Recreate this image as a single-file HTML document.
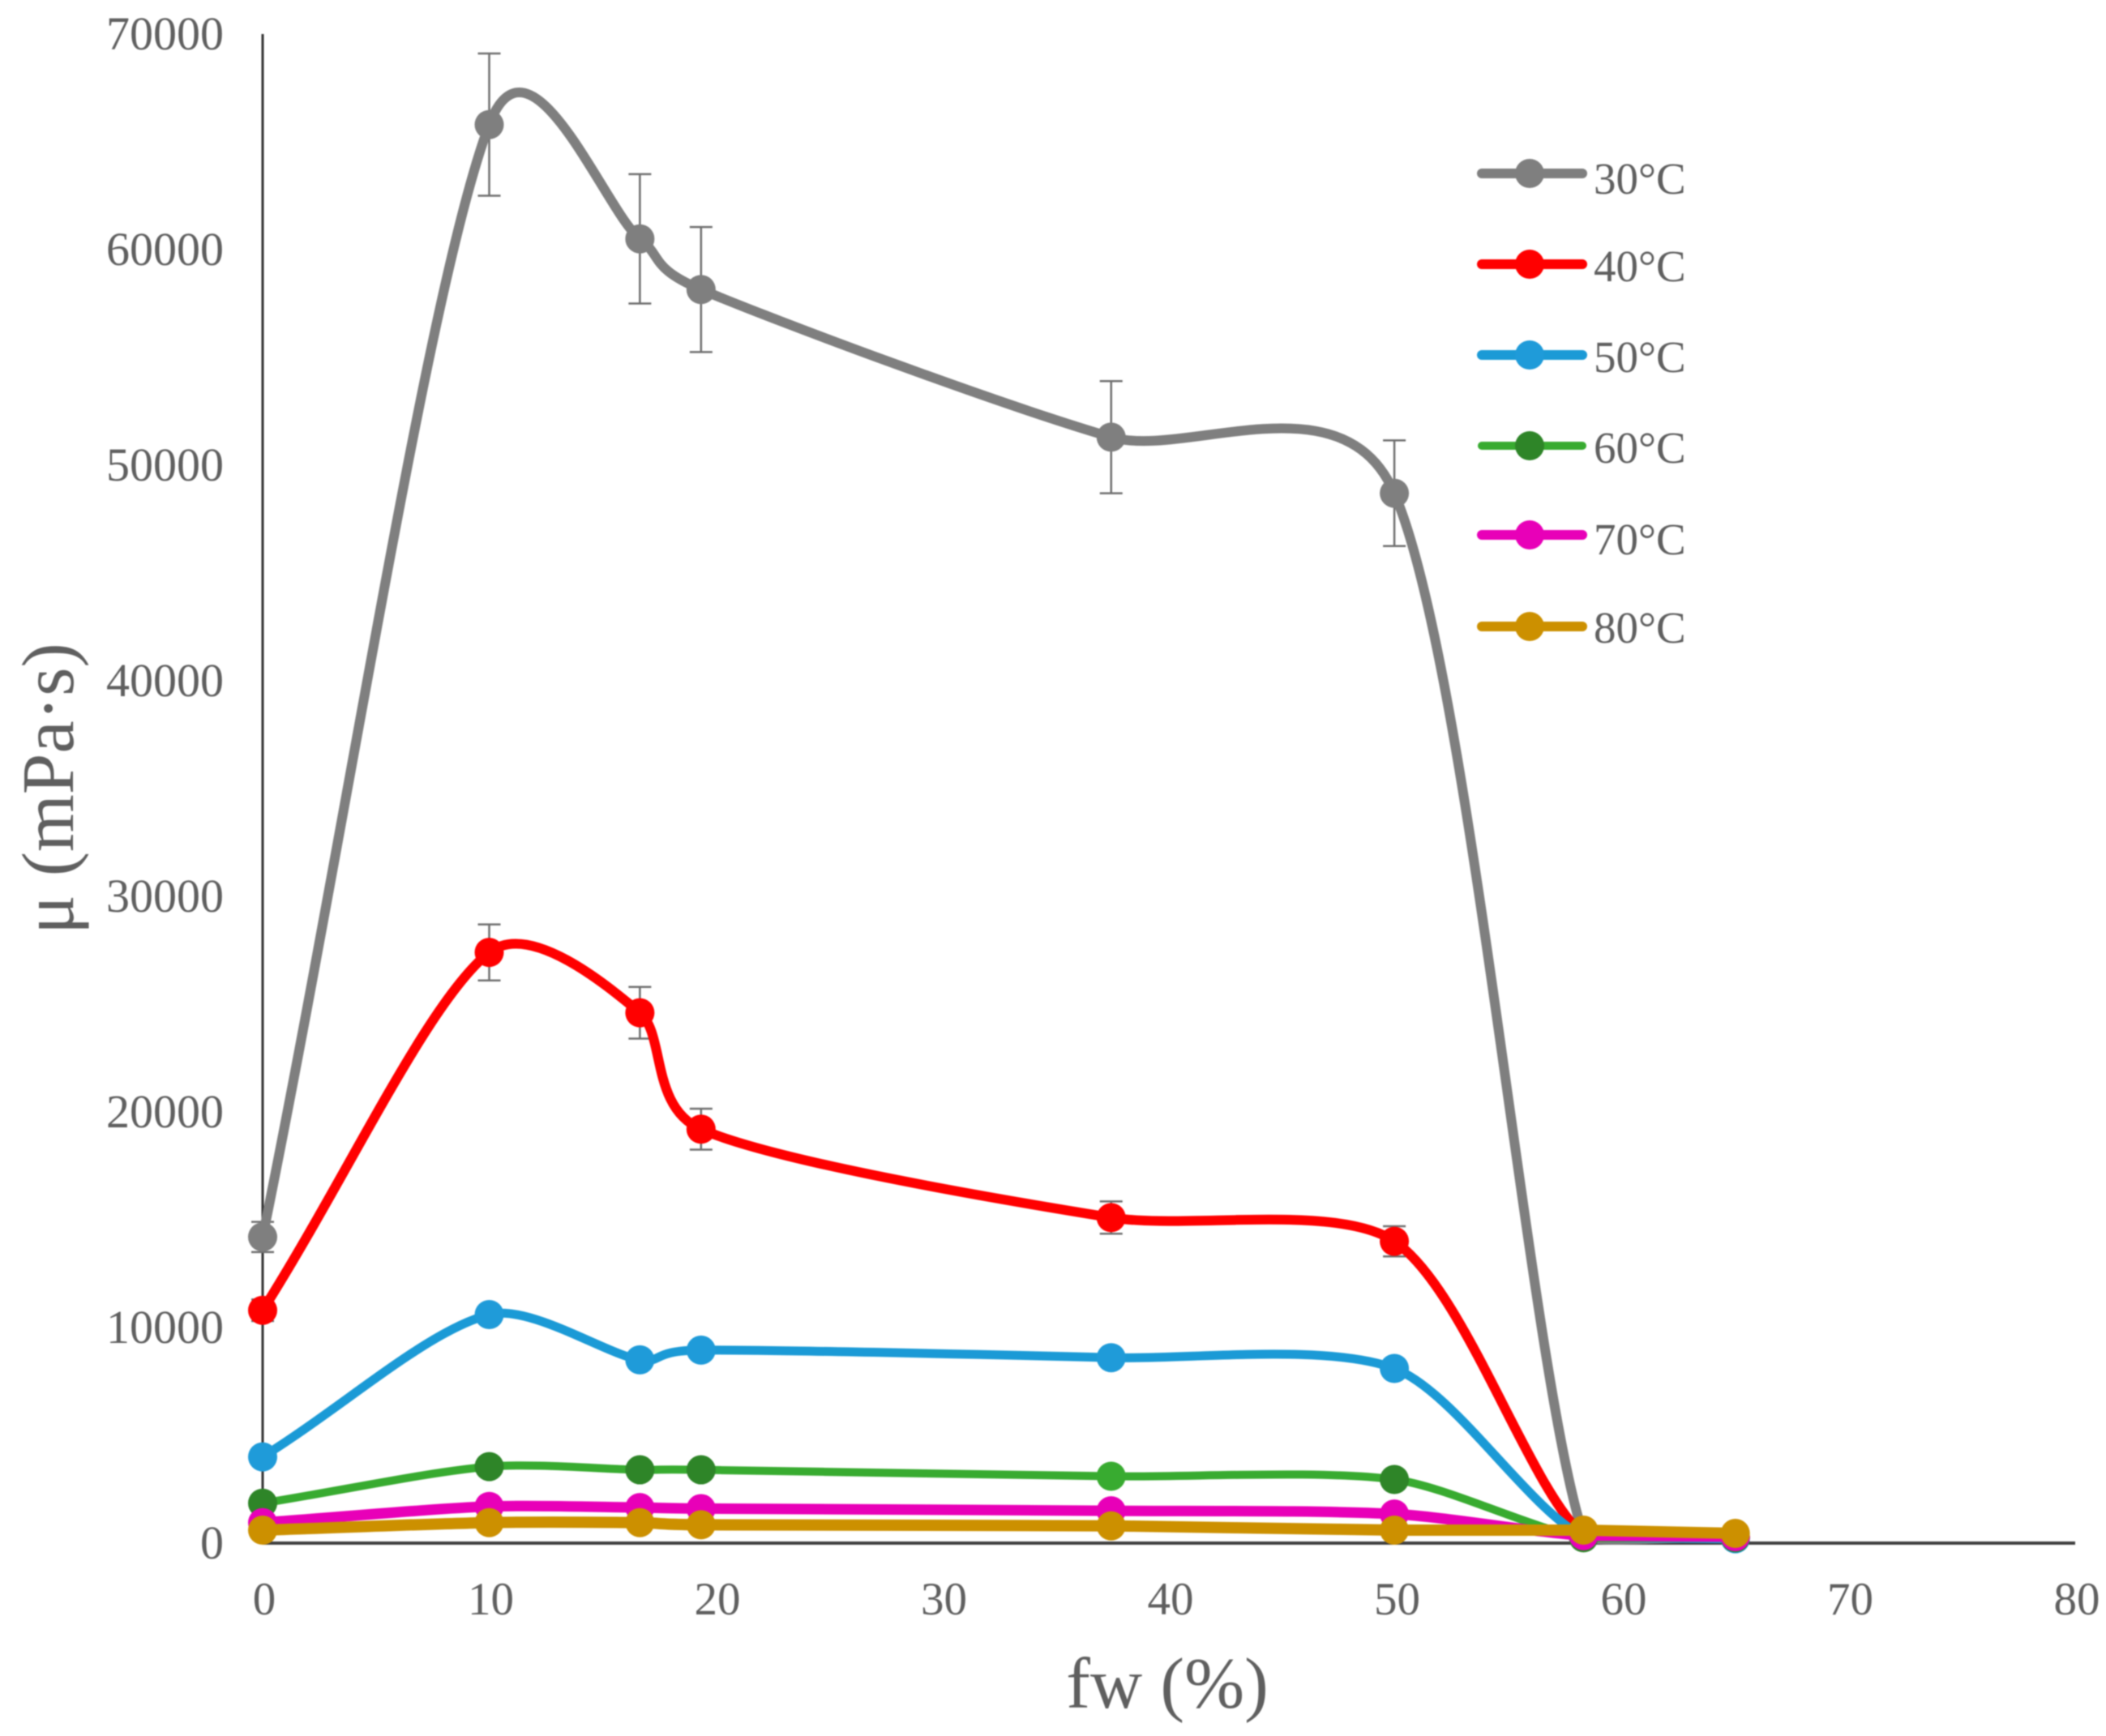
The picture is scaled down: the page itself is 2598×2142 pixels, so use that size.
<!DOCTYPE html>
<html lang="en">
<head>
<meta charset="utf-8">
<title>Viscosity vs water fraction</title>
<style>
html,body{margin:0;padding:0;background:#fff;}
svg{display:block;filter:blur(.7px);font-family:"Liberation Serif",serif;}
</style>
</head>
<body>
<svg id="chart" xmlns="http://www.w3.org/2000/svg" width="2598" height="2142" viewBox="0 0 2598 2142"></svg>
<script>
const fwValues = [0, 10, 16.65, 19.35, 37.45, 49.95, 58.3, 65];
const seriesNames = ['30°C', '40°C', '50°C', '60°C', '70°C', '80°C'];
const values30 = [14200, 65800, 60500, 58150, 51300, 48700, 350, 300];
const values40 = [10800, 27400, 24600, 19200, 15100, 14000, 350, 250];
const values50 = [4000, 10600, 8500, 8950, 8600, 8100, 300, 200];
const values60 = [1850, 3550, 3400, 3400, 3100, 2950, 250, 250];
const values70 = [950, 1700, 1650, 1600, 1500, 1350, 350, 300];
const values80 = [600, 950, 950, 850, 800, 600, 600, 450];
const errors30 = [700, 3300, 3000, 2900, 2600, 2450, 0, 0];
const errors40 = [500, 1300, 1200, 950, 750, 700, 0, 0];
const xTickLabels = ['0', '10', '20', '30', '40', '50', '60', '70', '80'];
const yTickLabels = ['0', '10000', '20000', '30000', '40000', '50000', '60000', '70000'];

const svgRoot = document.getElementById('chart');
const NS = 'http://www.w3.org/2000/svg';
const xMax = 80, yMax = 70000;
const plotLeft = 324, plotRight = 2560, plotBottom = 1904, plotTop = 42;
const X = v => plotLeft + (v / xMax) * (plotRight - plotLeft);
const Y = v => plotBottom - (v / yMax) * (plotBottom - plotTop);
const lineColors = ['#7f7f7f', '#ff0000', '#1b9ad6', '#38ab30', '#e800b8', '#cc9000'];
const markerColors = ['#7f7f7f', '#ff0000', '#1f9bd9', '#2e8528', '#e800b8', '#cc9000'];
const lineWidths = [12, 12, 11, 10, 13, 14];
const allValues = [values30, values40, values50, values60, values70, values80];
const allErrors = [errors30, errors40];
const textColor = '#5f5f5f';

function make(tag, attrs, parent) {
  const el = document.createElementNS(NS, tag);
  for (const k in attrs) el.setAttribute(k, attrs[k]);
  (parent || svgRoot).appendChild(el);
  return el;
}

function smoothPath(pts) {
  const k = 0.27, clampRatio = 1.5;
  const dist = (a, b) => Math.hypot(a[0] - b[0], a[1] - b[1]);
  // per-point tangent fractions with segment-length ratio clamped
  function fractions(i) {
    let d1 = dist(pts[Math.max(i - 1, 0)], pts[i]);
    let d2 = dist(pts[i], pts[Math.min(i + 1, pts.length - 1)]);
    if (d1 === 0 || d2 === 0) return [k * 1.4, k * 1.4];
    if (d1 > d2 * clampRatio) d1 = d2 * clampRatio;
    if (d2 > d1 * clampRatio) d2 = d1 * clampRatio;
    return [k * d1 / (d1 + d2), k * d2 / (d1 + d2)];
  }
  let d = 'M' + pts[0][0] + ' ' + pts[0][1];
  for (let i = 0; i < pts.length - 1; i++) {
    const p0 = pts[Math.max(i - 1, 0)], p1 = pts[i], p2 = pts[i + 1], p3 = pts[Math.min(i + 2, pts.length - 1)];
    // the curve settles flat after the drop: damp the outgoing tangent at the second-last point
    const damp = (i === pts.length - 2) ? 0.08 : 1;
    const f1 = fractions(i)[1] * damp;
    const f2 = fractions(i + 1)[0];
    const c1x = p1[0] + (p2[0] - p0[0]) * f1, c1y = p1[1] + (p2[1] - p0[1]) * f1;
    const c2x = p2[0] - (p3[0] - p1[0]) * f2, c2y = p2[1] - (p3[1] - p1[1]) * f2;
    d += 'C' + c1x.toFixed(1) + ' ' + c1y.toFixed(1) + ' ' + c2x.toFixed(1) + ' ' + c2y.toFixed(1) + ' ' + p2[0].toFixed(1) + ' ' + p2[1].toFixed(1);
  }
  return d;
}

// y axis and x axis
const yAxis = make('line', {x1: plotLeft, y1: plotTop, x2: plotLeft, y2: plotBottom, stroke: '#333', 'stroke-width': 3});


const xAxis = make('line', {x1: plotLeft, y1: plotBottom, x2: plotRight, y2: plotBottom, stroke: '#404040', 'stroke-width': 4});



// tick labels
xTickLabels.forEach(label => {
  const t = make('text', {x: X(+label) + 2, y: 1992, 'text-anchor': 'middle', 'font-size': 57, fill: textColor});
  t.textContent = label;
  
  
});
yTickLabels.forEach(label => {
  const t = make('text', {x: 276, y: Y(+label) + 19, 'text-anchor': 'end', 'font-size': 58, fill: textColor});
  t.textContent = label;
  
  
});

// axis titles
const xTitle = make('text', {x: 1440, y: 2107, 'text-anchor': 'middle', 'font-size': 89, fill: textColor});
xTitle.textContent = 'fw (%)';


const yTitle = make('text', {x: 0, y: 0, transform: 'translate(90 973) rotate(-90)', 'text-anchor': 'middle', 'font-size': 91, fill: textColor});
yTitle.textContent = 'μ (mPa·s)';



// series
allValues.forEach((vals, s) => {
  const g = make('g', {});
  
  
  const pts = vals.map((v, i) => [X(fwValues[i]), Y(v)]);
  const errs = allErrors[s];
  if (errs) {
    errs.forEach((e, i) => {
      if (!e) return;
      const x = X(fwValues[i]);
      const path = make('path', {
        d: 'M' + x + ' ' + Y(vals[i] + e) + 'V' + Y(vals[i] - e) +
           'M' + (x - 14) + ' ' + Y(vals[i] + e) + 'h28' +
           'M' + (x - 14) + ' ' + Y(vals[i] - e) + 'h28',
        stroke: '#6f6f6f', 'stroke-width': 2.5, fill: 'none'
      }, g);
      
      
    });
  }
  const line = make('path', {d: smoothPath(pts), fill: 'none', stroke: lineColors[s], 'stroke-width': lineWidths[s], 'stroke-linecap': 'round', 'stroke-linejoin': 'round'}, g);
  
  
  pts.forEach((p, i) => {
    const fill = (s === 3 && i === 4) ? lineColors[s] : markerColors[s];
    const c = make('circle', {cx: p[0], cy: p[1], r: 18, fill: fill}, g);
    
    
  });
});

// legend
const legendYs = [214, 326, 438, 550, 660, 773];
const legendTextYs = [239, 347, 459, 571, 684, 793];
seriesNames.forEach((name, s) => {
  const g = make('g', {});
  
  
  const ly = legendYs[s];
  const l = make('line', {x1: 1828, y1: ly, x2: 1952, y2: ly, stroke: lineColors[s], 'stroke-width': s === 3 ? 10 : 12, 'stroke-linecap': 'round'}, g);
  
  
  const c = make('circle', {cx: 1887, cy: ly, r: 18, fill: markerColors[s]}, g);
  
  
  const t = make('text', {x: 1966, y: legendTextYs[s], 'font-size': 55, fill: textColor}, g);
  t.textContent = name;
  
  
});
</script>
</body>
</html>
